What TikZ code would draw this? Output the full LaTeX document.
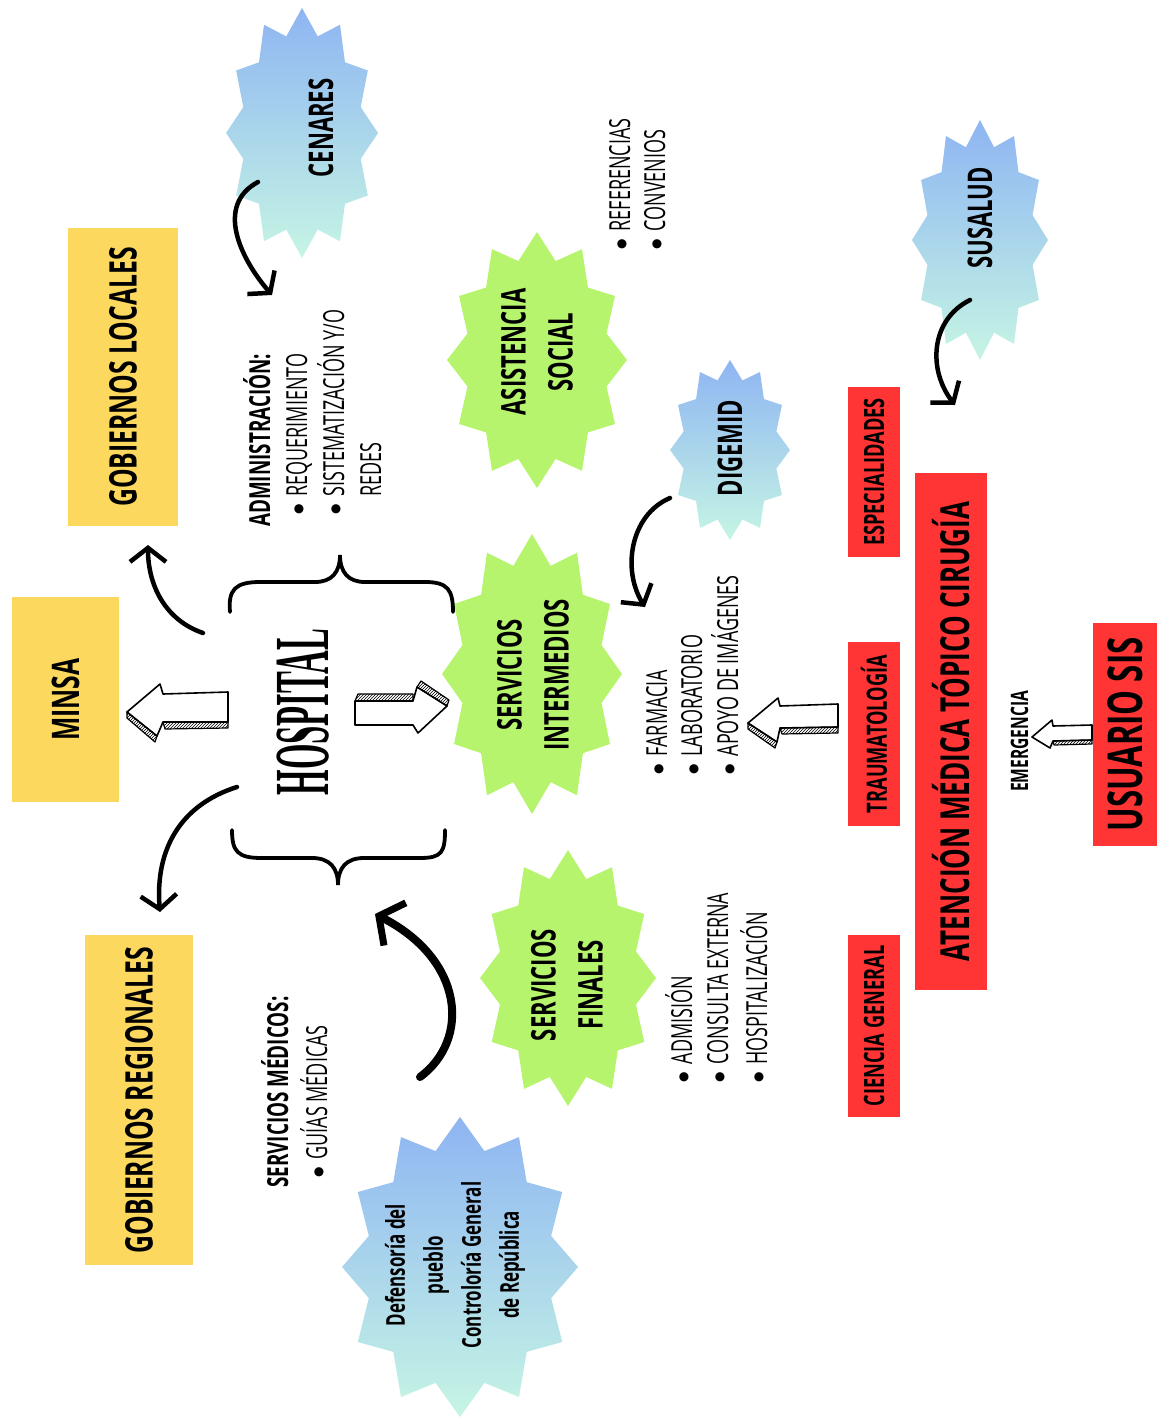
\documentclass[tikz,border=0pt]{standalone}
\usepackage{fontspec}
\setmainfont{Open Sans}
\newfontfamily\cnd{Open Sans}[FakeStretch=0.65]
\newfontfamily\lite{Open Sans}[FakeStretch=0.62]
\newfontfamily\hosp{Liberation Serif}[FakeStretch=0.42]
\newfontfamily\dvs{DejaVu Sans}
\newcommand{\bul}{\raisebox{5pt}{\dvs\fontsize{12}{12}\selectfont ●}}
\usetikzlibrary{arrows.meta,patterns}
\definecolor{ylw}{HTML}{FDD85E}
\definecolor{rd}{HTML}{FF3535}
\definecolor{grn}{HTML}{B7F46D}
\definecolor{bltop}{HTML}{8EB5F2}
\definecolor{blbot}{HTML}{C6F5E4}
\newcommand{\burst}[5]{\path[#5] plot[domain=90:450, samples=25] ({#1+#3*(1-0.2*mod(round((\x-90)/15),2))*cos(\x)}, {#2+#4*(1-0.2*mod(round((\x-90)/15),2))*sin(\x)}) -- cycle;}
\tikzset{
  box/.style={rotate=90, inner sep=0pt, align=center},
  ybox/.style={box, fill=ylw, font=\cnd\bfseries\fontsize{38}{40}\selectfont},
  rbox/.style={box, fill=rd, font=\cnd\bfseries\fontsize{28}{30}\selectfont},
  lbl/.style={rotate=90, inner sep=0pt, align=center, font=\cnd\bfseries\fontsize{34}{47}\selectfont},
  itm/.style={rotate=90, anchor=base west, inner sep=0pt, font=\lite\fontsize{29}{30}\selectfont},
  hdr/.style={itm, font=\cnd\bfseries\fontsize{29}{30}\selectfont},
  curv/.style={line width=4.5pt, line cap=round, -{Straight Barb[length=14pt,width=36pt,line width=4.5pt]}},
  blk/.style={draw, line width=1.6pt, fill=white, line join=round},
  hatchband/.style={draw, line width=1.2pt, pattern=north east lines, line join=round},
  bracepath/.style={line width=3.8pt, line cap=round},
  bluefill/.style={top color=bltop, bottom color=blbot},
}
\begin{document}
\begin{tikzpicture}[x=1pt, y=-1pt]
\useasboundingbox (0,0) rectangle (1157,1418);

% ---------- yellow boxes ----------
\node[ybox, minimum width=298pt, minimum height=110pt] (gl) at (123,377) {GOBIERNOS LOCALES};
\node[ybox, minimum width=205pt, minimum height=107pt] (minsa) at (65.5,699.5) {MINSA};
\node[ybox, minimum width=330pt, minimum height=108pt] (gr) at (139,1100) {GOBIERNOS REGIONALES};

% ---------- red boxes ----------
\node[rbox, minimum width=170pt, minimum height=52pt] (esp) at (874,472) {ESPECIALIDADES};
\node[rbox, minimum width=184pt, minimum height=52pt] (trau) at (874,734) {TRAUMATOLOGÍA};
\node[rbox, minimum width=182pt, minimum height=52pt] (cien) at (874,1026) {CIENCIA GENERAL};
\node[rbox, minimum width=517pt, minimum height=72pt, font=\cnd\bfseries\fontsize{40}{42}\selectfont] (aten) at (951,731.5) {ATENCIÓN MÉDICA TÓPICO CIRUGÍA};
\node[rbox, minimum width=223pt, minimum height=64pt, font=\cnd\bfseries\fontsize{48}{50}\selectfont] (usu) at (1125,734.5) {USUARIO SIS};

% ---------- starbursts ----------
\burst{302}{133}{76}{125}{bluefill}
\burst{537}{360}{90}{128}{fill=grn}
\burst{980}{240}{68}{120}{bluefill}
\burst{730}{450}{60}{90}{bluefill}
\burst{532}{674}{90}{140}{fill=grn}
\burst{568}{978}{88}{128}{fill=grn}
\burst{460}{1267}{118}{150}{bluefill}

\node[lbl] (cen) at (321,128) {CENARES};
\node[lbl] (asis) at (537,352) {ASISTENCIA\\SOCIAL};
\node[lbl] (sus) at (980,218) {SUSALUD};
\node[lbl] (dig) at (730,448) {DIGEMID};
\node[lbl] (sint) at (533,675) {SERVICIOS\\INTERMEDIOS};
\node[lbl] (sfin) at (567,985) {SERVICIOS\\FINALES};
\node[lbl, font=\cnd\bfseries\fontsize{26}{38}\selectfont] (def) at (455,1265) {Defensoría del\\pueblo\\Controloría General\\de República};

% ---------- HOSPITAL ----------
\node[rotate=90, inner sep=0pt, font=\hosp\bfseries\fontsize{78}{78}\selectfont] (hosp) at (303,712) {HOSPITAL};

% ---------- braces ----------
\draw[bracepath] (230,612) .. controls (228,590) and (235,582) .. (260,582) -- (315,582) .. controls (332,582) and (340,572) .. (340,555) .. controls (340,572) and (348,582) .. (365,582) -- (425,582) .. controls (448,582) and (453,590) .. (453,612);
\draw[bracepath] (232,830) .. controls (232,852) and (238,858) .. (262,858) -- (312,858) .. controls (330,858) and (338,868) .. (338,885) .. controls (338,868) and (346,858) .. (364,858) -- (420,858) .. controls (442,858) and (445,852) .. (445,830);

% ---------- lists ----------
\node[hdr] (admH) at (270,527) {ADMINISTRACIÓN:};
\node[itm] (adm1) at (307,515) {\bul\hspace{8pt}REQUERIMIENTO};
\node[itm] (adm2) at (344,515) {\bul\hspace{8pt}SISTEMATIZACIÓN Y/O};
\node[itm] (adm3) at (381,497) {REDES};

\node[itm] (ref1) at (630,250) {\bul\hspace{8pt}REFERENCIAS};
\node[itm] (ref2) at (665,250) {\bul\hspace{8pt}CONVENIOS};

\node[itm] (far1) at (667,775) {\bul\hspace{8pt}FARMACIA};
\node[itm] (far2) at (702,775) {\bul\hspace{8pt}LABORATORIO};
\node[itm] (far3) at (738,775) {\bul\hspace{8pt}APOYO DE IMÁGENES};

\node[itm] (fin1) at (692,1083) {\bul\hspace{8pt}ADMISIÓN};
\node[itm] (fin2) at (728,1083) {\bul\hspace{8pt}CONSULTA EXTERNA};
\node[itm] (fin3) at (767,1083) {\bul\hspace{8pt}HOSPITALIZACIÓN};

\node[hdr] (smH) at (288,1188) {SERVICIOS MÉDICOS:};
\node[itm] (sm1) at (327,1178) {\bul\hspace{8pt}GUÍAS MÉDICAS};

\node[itm, font=\cnd\bfseries\fontsize{24}{26}\selectfont] (emer) at (1028,792) {EMERGENCIA};

% ---------- curved arrows ----------
\coordinate (a1s) at (258,182); \coordinate (a1e) at (272,295);
\draw[curv] (a1s) .. controls (215,205) and (240,258) .. (a1e);
\coordinate (a2s) at (203,633); \coordinate (a2e) at (148,545);
\draw[curv] (a2s) .. controls (165,620) and (148,585) .. (a2e);
\coordinate (a3s) at (237,787); \coordinate (a3e) at (160,912);
\draw[curv] (a3s) .. controls (180,805) and (155,850) .. (a3e);
\coordinate (a4s) at (420,1077); \coordinate (a4e) at (375,914);
\draw[line width=8pt, line cap=round, -{Straight Barb[length=18pt,width=48pt,line width=7pt]}] (a4s) .. controls (470,1040) and (465,960) .. (a4e);
\coordinate (a5s) at (670,498); \coordinate (a5e) at (645,607);
\draw[curv] (a5s) .. controls (630,515) and (622,570) .. (a5e);
\coordinate (a6s) at (970,300); \coordinate (a6e) at (955,405);
\draw[curv] (a6s) .. controls (930,320) and (928,370) .. (a6e);

% ---------- block arrows ----------
\draw[blk] (127,712) -- (160,684) -- (163,694) -- (228,692) -- (228,722) -- (163,722) -- (157,736) -- cycle;
\path[hatchband] (163,722) -- (228,722) -- (228,728) -- (165,729) -- cycle;
\path[hatchband] (127,712) -- (157,736) -- (155,742) -- (127,718) -- cycle;

\draw[blk] (355,701) -- (413,701) -- (417,687) -- (447,706) -- (418,733) -- (413,725) -- (355,725) -- cycle;
\path[hatchband] (355,701) -- (358,694) -- (413,694) -- (413,701) -- cycle;
\path[hatchband] (417,687) -- (421,681) -- (449,700) -- (447,706) -- cycle;

\draw[blk] (748,723) -- (778,698) -- (780,706) -- (838,704) -- (838,727) -- (780,728) -- (777,742) -- cycle;
\path[hatchband] (780,728) -- (838,727) -- (838,733) -- (782,734) -- cycle;
\path[hatchband] (748,723) -- (777,742) -- (775,748) -- (748,729) -- cycle;

\draw[blk] (1032,737) -- (1052,720) -- (1053,726) -- (1092,725) -- (1092,740) -- (1053,741) -- (1050,748) -- cycle;
\path[hatchband] (1053,741) -- (1092,740) -- (1092,744) -- (1054,745) -- cycle;
\end{tikzpicture}
\end{document}
